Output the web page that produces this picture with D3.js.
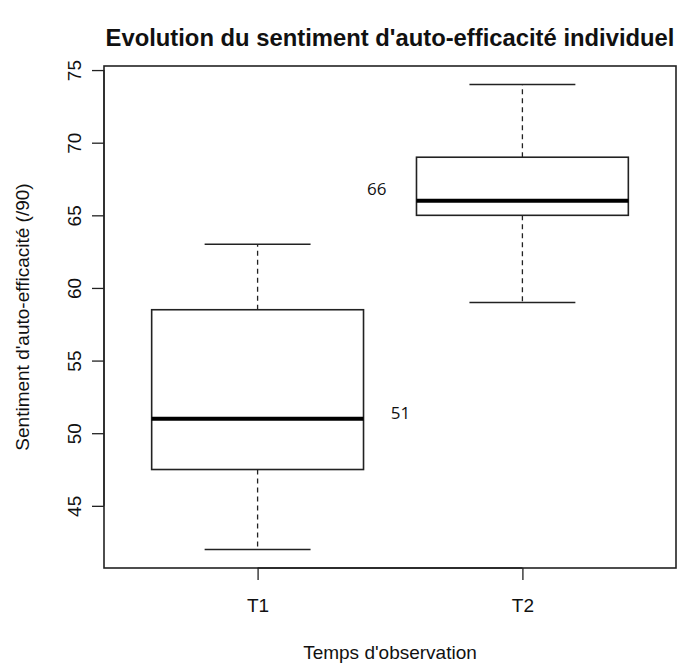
<!DOCTYPE html>
<html>
<head>
<meta charset="utf-8">
<script src="https://cdn.jsdelivr.net/npm/d3@7"></script>
<style>
  body { margin: 0; background: #fff; }
  text { font-family: "Liberation Sans", Arial, sans-serif; fill: #111; }
</style>
</head>
<body>
<div id="chart"></div>
<script>
var categories = ['T1', 'T2'];
var whiskerLow = [42, 59];
var quartile1 = [47.5, 65];
var medians = [51, 66];
var quartile3 = [58.5, 69];
var whiskerHigh = [63, 74];
var yTicks = [45, 50, 55, 60, 65, 70, 75];

var width = 678, height = 665;
var plot = { left: 104, right: 676, top: 66, bottom: 568 };

var svg = d3.select('#chart').append('svg')
  .attr('width', width)
  .attr('height', height);

// R style: range padded by 4%
var yMin = d3.min(whiskerLow), yMax = d3.max(whiskerHigh);
var pad = (yMax - yMin) * 0.04;
var y = d3.scaleLinear()
  .domain([yMin - pad, yMax + pad])
  .range([plot.bottom, plot.top]);

var x = d3.scaleLinear()
  .domain([0.5 - 0.08, categories.length + 0.5 + 0.08])
  .range([plot.left, plot.right]);

var data = categories.map(function (c, i) {
  return { name: c, pos: i + 1, lo: whiskerLow[i], q1: quartile1[i],
           med: medians[i], q3: quartile3[i], hi: whiskerHigh[i] };
});

var boxHalf = 0.4, stapleHalf = 0.2;

var g = svg.selectAll('g.box').data(data).enter().append('g').attr('class', 'box');

// whiskers (dashed)
g.append('line')
  .attr('x1', function (d) { return x(d.pos); })
  .attr('x2', function (d) { return x(d.pos); })
  .attr('y1', function (d) { return y(d.q3); })
  .attr('y2', function (d) { return y(d.hi); })
  .attr('stroke', '#222').attr('stroke-width', 1.3).attr('stroke-dasharray', '5,4');
g.append('line')
  .attr('x1', function (d) { return x(d.pos); })
  .attr('x2', function (d) { return x(d.pos); })
  .attr('y1', function (d) { return y(d.q1); })
  .attr('y2', function (d) { return y(d.lo); })
  .attr('stroke', '#222').attr('stroke-width', 1.3).attr('stroke-dasharray', '5,4');

// staples
['lo', 'hi'].forEach(function (k) {
  g.append('line')
    .attr('x1', function (d) { return x(d.pos - stapleHalf); })
    .attr('x2', function (d) { return x(d.pos + stapleHalf); })
    .attr('y1', function (d) { return y(d[k]); })
    .attr('y2', function (d) { return y(d[k]); })
    .attr('stroke', '#222').attr('stroke-width', 1.5);
});

// boxes
g.append('rect')
  .attr('x', function (d) { return x(d.pos - boxHalf); })
  .attr('width', function (d) { return x(d.pos + boxHalf) - x(d.pos - boxHalf); })
  .attr('y', function (d) { return y(d.q3); })
  .attr('height', function (d) { return y(d.q1) - y(d.q3); })
  .attr('fill', 'none').attr('stroke', '#222').attr('stroke-width', 1.6);

// medians
g.append('line')
  .attr('x1', function (d) { return x(d.pos - boxHalf); })
  .attr('x2', function (d) { return x(d.pos + boxHalf); })
  .attr('y1', function (d) { return y(d.med); })
  .attr('y2', function (d) { return y(d.med); })
  .attr('stroke', '#000').attr('stroke-width', 4);

// median labels: right of T1, left of T2
g.append('text')
  .attr('x', function (d, i) { return x(d.pos + (i === 0 ? 0.54 : -0.55)); })
  .attr('y', function (d, i) { return y(d.med + (i === 0 ? 0.4 : 0.8)); })
  .attr('dy', '0.35em')
  .attr('text-anchor', 'middle')
  .style('font-family', '"Open Sans", "Noto Sans", sans-serif')
  .style('font-size', '17px')
  .text(function (d) { return d.med; });

// frame
svg.append('rect')
  .attr('x', plot.left).attr('y', plot.top)
  .attr('width', plot.right - plot.left).attr('height', plot.bottom - plot.top)
  .attr('fill', 'none').attr('stroke', '#222').attr('stroke-width', 1.6);

// y axis
var yAxis = svg.append('g')
  .attr('transform', 'translate(' + plot.left + ',0)')
  .call(d3.axisLeft(y).tickValues(yTicks).tickSize(12).tickPadding(0));
yAxis.select('.domain')
  .attr('d', 'M0,' + y(yTicks[0]) + 'V' + y(yTicks[yTicks.length - 1]))
  .attr('stroke', '#222').attr('stroke-width', 1.3);
yAxis.selectAll('.tick line').attr('stroke', '#222').attr('stroke-width', 1.3);
yAxis.selectAll('.tick text')
  .attr('x', null).attr('dy', null)
  .attr('transform', 'translate(-23,0) rotate(-90)')
  .attr('text-anchor', 'middle')
  .style('font-size', '19px')
  .style('font-family', '"Liberation Sans", Arial, sans-serif')
  .attr('fill', '#222');

// x axis
var xAxis = svg.append('g')
  .attr('transform', 'translate(0,' + plot.bottom + ')')
  .call(d3.axisBottom(x).tickValues(data.map(function (d) { return d.pos; }))
    .tickFormat(function (v) { return categories[v - 1]; })
    .tickSize(12).tickPadding(0));
xAxis.select('.domain')
  .attr('d', 'M' + x(1) + ',0H' + x(categories.length))
  .attr('stroke', '#222').attr('stroke-width', 1.3);
xAxis.selectAll('.tick line').attr('stroke', '#222').attr('stroke-width', 1.3);
xAxis.selectAll('.tick text')
  .attr('y', 44).attr('dy', null)
  .style('font-size', '19px')
  .style('font-family', '"Liberation Sans", Arial, sans-serif')
  .attr('fill', '#222');

// titles
svg.append('text')
  .attr('x', (plot.left + plot.right) / 2)
  .attr('y', 46)
  .attr('text-anchor', 'middle')
  .style('font-size', '23.8px')
  .style('font-weight', 'bold')
  .text("Evolution du sentiment d'auto-efficacité individuel");

svg.append('text')
  .attr('x', (plot.left + plot.right) / 2)
  .attr('y', 659)
  .attr('text-anchor', 'middle')
  .style('font-size', '19px')
  .text("Temps d'observation");

svg.append('text')
  .attr('transform', 'translate(29,' + (plot.top + plot.bottom) / 2 + ') rotate(-90)')
  .attr('text-anchor', 'middle')
  .style('font-size', '19px')
  .text("Sentiment d'auto-efficacité (/90)");
</script>
</body>
</html>
